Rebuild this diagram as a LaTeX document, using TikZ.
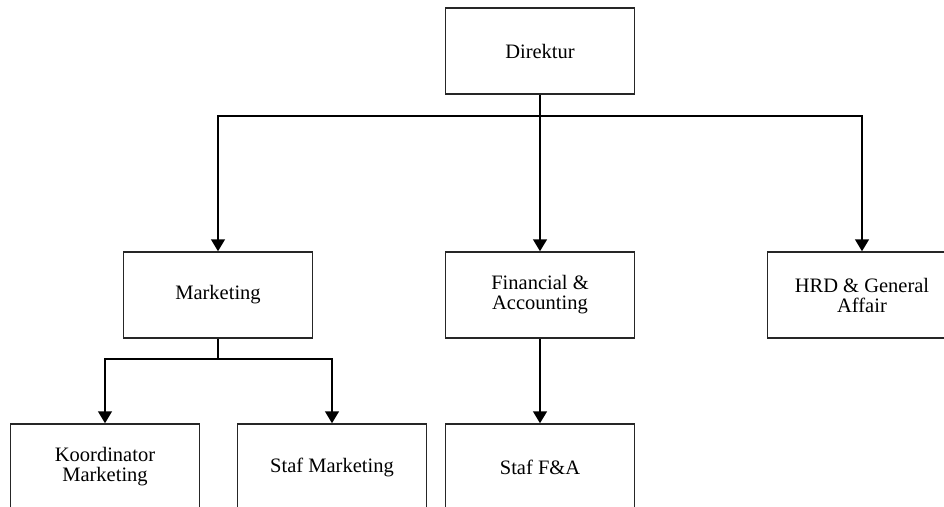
\documentclass[tikz,border=0pt]{standalone}
\usepackage{fontspec}
\setmainfont{Liberation Serif}
\usetikzlibrary{arrows.meta}
\begin{document}
\begin{tikzpicture}[x=1pt,y=-1pt,
  unitbox/.style={draw=black!85,line width=1.5pt,fill=white,
    minimum width=189pt,minimum height=86pt,align=center,inner sep=2pt,
    font=\fontsize{20.5}{20}\selectfont},
  link/.style={draw=black,line width=1.5pt},
  arr/.style={link,-{Triangle[width=14pt,length=12pt]}}]
\useasboundingbox (0,0) rectangle (944,506);
\clip (0,0) rectangle (944,506);
% top level
\node[unitbox] (dir) at (540,51) {Direktur};
% second level
\node[unitbox] (mkt) at (218,295) {Marketing};
\node[unitbox] (fin) at (540,295) {Financial \&\\Accounting};
\node[unitbox] (hrd) at (862,295) {HRD \& General\\Affair};
% third level
\node[unitbox] (kor) at (105,467) {Koordinator\\Marketing};
\node[unitbox] (stm) at (332,467) {Staf Marketing};
\node[unitbox] (stf) at (540,467) {Staf F\&A};
% junctions
\coordinate (j1) at (dir.south |- 0,116);
\coordinate (j2) at (mkt.south |- 0,359);
% connectors from the director
\draw[link] (dir.south) -- (j1);
\draw[arr] (j1) -| (mkt.north);
\draw[arr] (j1) -- (fin.north);
\draw[arr] (j1) -| (hrd.north);
% connectors below marketing
\draw[link] (mkt.south) -- (j2);
\draw[arr] (j2) -| (kor.north);
\draw[arr] (j2) -| (stm.north);
% connector below financial
\draw[arr] (fin.south) -- (stf.north);
\end{tikzpicture}
\end{document}
